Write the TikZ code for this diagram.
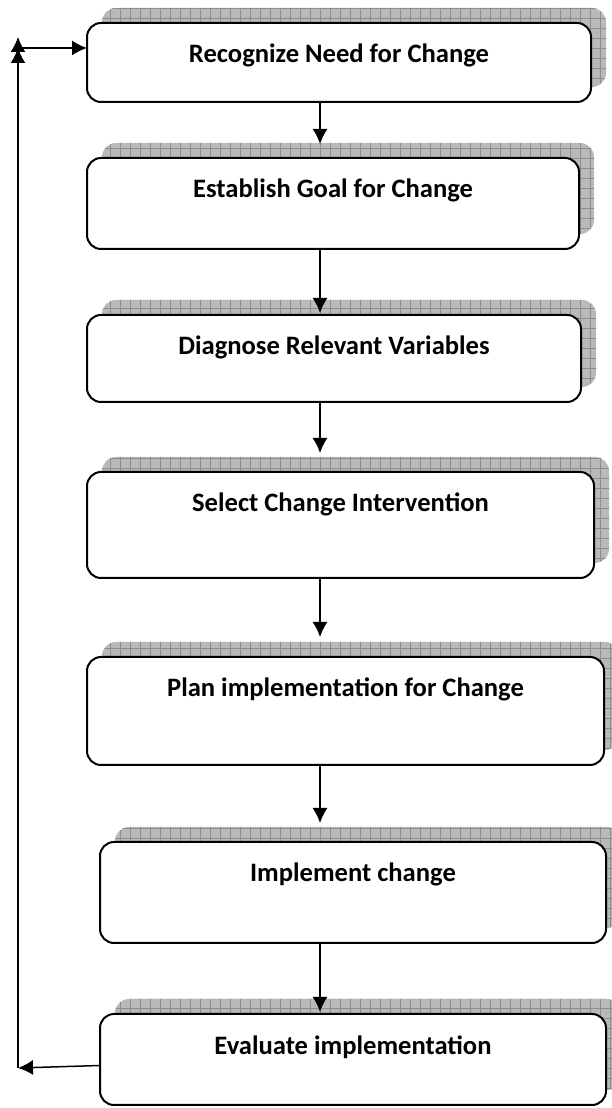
\documentclass[tikz,border=0pt]{standalone}
\usepackage{fontspec}
\setmainfont{Carlito}
\usetikzlibrary{positioning, arrows.meta, patterns.meta, backgrounds}

\begin{document}
\begin{tikzpicture}[font=\fontsize{13.3pt}{16pt}\selectfont\bfseries,
    stage/.style={draw=black,
        line width=1pt,
        fill=white,
        rounded corners=7pt,
        inner xsep=0pt,
        inner ysep=0pt,
        outer sep=0pt,
        text height=20pt},
    backshade/.style={rounded corners=7pt,
        fill=gray!55,
        postaction={pattern={Hatch[angle=0,distance=5pt,line width=0.4pt]},
            pattern color=gray!90}},
    link/.style={-{Latex[length=7.5pt,width=7.5pt]}, line width=0.75pt}]
    \useasboundingbox (0,0) rectangle (305.5pt,554pt);
    % Add the stages
        \node[stage,
              anchor=north west,
              minimum width=252pt,
              text depth=19.5pt] (rec) at (43.5pt,542.5pt) {Recognize Need for Change};
        \node[stage,
              below=28pt of rec.south west,
              anchor=north west,
              minimum width=246pt,
              text depth=25.5pt] (goal) {Establish Goal for Change};
        \node[stage,
              below=33pt of goal.south west,
              anchor=north west,
              minimum width=247pt,
              text depth=23.5pt] (diag) {Diagnose Relevant Variables};
        \node[stage,
              below=35pt of diag.south west,
              anchor=north west,
              minimum width=253.5pt,
              text depth=33pt] (sel) {Select Change Intervention};
        \node[stage,
              below=39.5pt of sel.south west,
              anchor=north west,
              minimum width=258.5pt,
              text depth=34pt] (plan) {Plan implementation for Change};
        \node[stage,
              below=38.5pt of plan.south west,
              xshift=6.5pt,
              anchor=north west,
              minimum width=253pt,
              text depth=30.5pt] (impl) {Implement change};
        \node[stage,
              below=35.5pt of impl.south west,
              anchor=north west,
              minimum width=253pt,
              text depth=25.5pt] (eval) {Evaluate implementation};

    % Shadows behind the stages
        \begin{pgfonlayer}{background}
            \foreach \b in {rec,goal,diag,sel,plan,impl,eval}
                \fill[backshade] ([shift={(7.5pt,7.5pt)}]\b.south west)
                    rectangle ([shift={(7.5pt,7.5pt)}]\b.north east);
        \end{pgfonlayer}

        \coordinate (axis) at (160pt,0);
        \coordinate (loopbot) at (9pt,20pt);
        \coordinate (looptop) at (9pt,535.5pt);
        \coordinate (loopin) at (9pt,530pt);

       \draw[link]
            (axis |- rec.south) edge ([yshift=7pt]axis |- goal.north)
            (axis |- goal.south) edge ([yshift=1pt]axis |- diag.north)
            (axis |- diag.south) edge ([yshift=9.5pt]axis |- sel.north)
            (axis |- sel.south) edge ([yshift=10pt]axis |- plan.north)
            (axis |- plan.south) edge ([yshift=9.5pt]axis |- impl.north)
            (axis |- impl.south) edge ([yshift=1pt]axis |- eval.north)
            ([yshift=-3pt]eval.west) edge (loopbot)
            (loopbot) edge (looptop)
            (loopin) edge (rec.west |- loopin)
            ;
    \end{tikzpicture}
\end{document}
